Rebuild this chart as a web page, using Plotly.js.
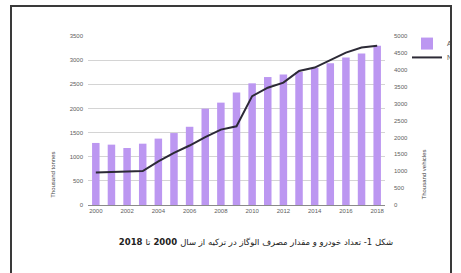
<!DOCTYPE html>
<html>
<head>
<meta charset="utf-8">
<script src="https://cdn.plot.ly/plotly-3.0.1.min.js"></script>
<style>
  html, body { margin: 0; padding: 0; background: #fff; width: 461px; height: 273px; overflow: hidden; }
  #frame { position: absolute; left: 10px; top: 5px; width: 438px; height: 300px; border: 2px solid #3a3a3a; overflow: hidden; background: #fff; }
  #chart { position: absolute; left: -12px; top: -7px; width: 600px; height: 273px; }
  #caption { position: absolute; left: 56px; width: 400px; top: 237px; display: flex; flex-direction: row;
             justify-content: center; align-items: baseline; flex-wrap: nowrap; direction: rtl; column-gap: 3px;
             font-family: "DejaVu Sans", sans-serif; font-size: 8.5px; line-height: 11px; color: #222; white-space: nowrap; }
  #caption span, #caption b { display: block; }
</style>
</head>
<body>
<div id="frame"><div id="chart"></div></div>
<div id="caption" dir="rtl" lang="fa"></div>
<script>
// Data
const years = [2000, 2001, 2002, 2003, 2004, 2005, 2006, 2007, 2008, 2009,
               2010, 2011, 2012, 2013, 2014, 2015, 2016, 2017, 2018];
// Autogas (LPG) consumption, thousand tonnes (left axis, bars)
const consumption = [1285, 1250, 1180, 1270, 1375, 1490, 1620, 1995, 2120, 2330,
                     2520, 2650, 2705, 2755, 2845, 2935, 3055, 3140, 3300];
// LPG vehicles, thousands (right axis, line)
const vehicles = [965, 985, 995, 1005, 1290, 1540, 1760, 2010, 2230, 2330,
                  3220, 3470, 3620, 3965, 4065, 4295, 4510, 4660, 4710];
const tickYears = [2000, 2002, 2004, 2006, 2008, 2010, 2012, 2014, 2016, 2018];
const leftTicks = [0, 500, 1000, 1500, 2000, 2500, 3000, 3500];
const rightTicks = [0, 500, 1000, 1500, 2000, 2500, 3000, 3500, 4000, 4500, 5000];
const seriesNames = ["Autogas consumption", "Number of autogas vehicles"];
const leftTitle = "Thousand tonnes";
const rightTitle = "Thousand vehicles";
// caption pieces in reading (right-to-left) order
const captionParts = [
  { text: "شکل 1- تعداد خودرو و مقدار مصرف الوگاز در ترکیه از سال", bold: false },
  { text: "2000", bold: true },
  { text: "تا", bold: false },
  { text: "2018", bold: true }
];

const cap = document.getElementById("caption");
captionParts.forEach(p => {
  const el = document.createElement(p.bold ? "b" : "span");
  el.textContent = p.text;
  cap.appendChild(el);
});

const tickFont = { family: "Liberation Sans, Arial, sans-serif", size: 6, color: "#606060" };
const legFont = { family: "Liberation Sans, Arial, sans-serif", size: 7, color: "#555" };

const traces = [
  {
    type: "bar", x: years, y: consumption, name: seriesNames[0],
    marker: { color: "#bc97f1" }, yaxis: "y", legend: "legend"
  },
  {
    type: "scatter", mode: "lines", x: years, y: vehicles, name: seriesNames[1],
    line: { color: "#2c2a36", width: 2 }, yaxis: "y2", legend: "legend2"
  }
];

const layout = {
  width: 600, height: 273,
  margin: { l: 88, r: 215, t: 36, b: 68 },
  paper_bgcolor: "#fff", plot_bgcolor: "#fff",
  bargap: 0.52,
  xaxis: {
    range: [1999.5, 2018.5], tickvals: tickYears, ticktext: tickYears.map(String),
    showgrid: false, zeroline: false, showline: true, linecolor: "#8a8a8a", linewidth: 1,
    ticks: "", tickfont: tickFont, ticklabelstandoff: 0
  },
  yaxis: {
    range: [0, 3500], tickvals: leftTicks, showgrid: true, gridcolor: "#d4d4d4", gridwidth: 1,
    zeroline: false, showline: false, ticks: "", tickfont: tickFont, ticklabelstandoff: 4
  },
  yaxis2: {
    range: [0, 5000], tickvals: rightTicks, overlaying: "y", side: "right",
    showgrid: false, zeroline: false, showline: false, ticks: "", tickfont: tickFont, ticklabelstandoff: 8
  },
  legend: {
    x: 1.074, xanchor: "left", y: 1.041, yanchor: "top",
    font: legFont, bgcolor: "rgba(0,0,0,0)", itemwidth: 30
  },
  legend2: {
    x: 1.074, xanchor: "left", y: 0.959, yanchor: "top",
    font: legFont, bgcolor: "rgba(0,0,0,0)", itemwidth: 30
  },
  annotations: [
    { text: leftTitle, xref: "paper", yref: "paper", x: -0.118, y: 0.178, textangle: -90,
      xanchor: "center", yanchor: "middle",
      showarrow: false, font: { family: "Liberation Sans, Arial, sans-serif", size: 6, color: "#444" } },
    { text: rightTitle, xref: "paper", yref: "paper", x: 1.13, y: 0.178, textangle: -90,
      xanchor: "center", yanchor: "middle",
      showarrow: false, font: { family: "Liberation Sans, Arial, sans-serif", size: 6, color: "#444" } }
  ],
  showlegend: true
};

Plotly.newPlot("chart", traces, layout, { staticPlot: true, displayModeBar: false });
</script>
</body>
</html>
